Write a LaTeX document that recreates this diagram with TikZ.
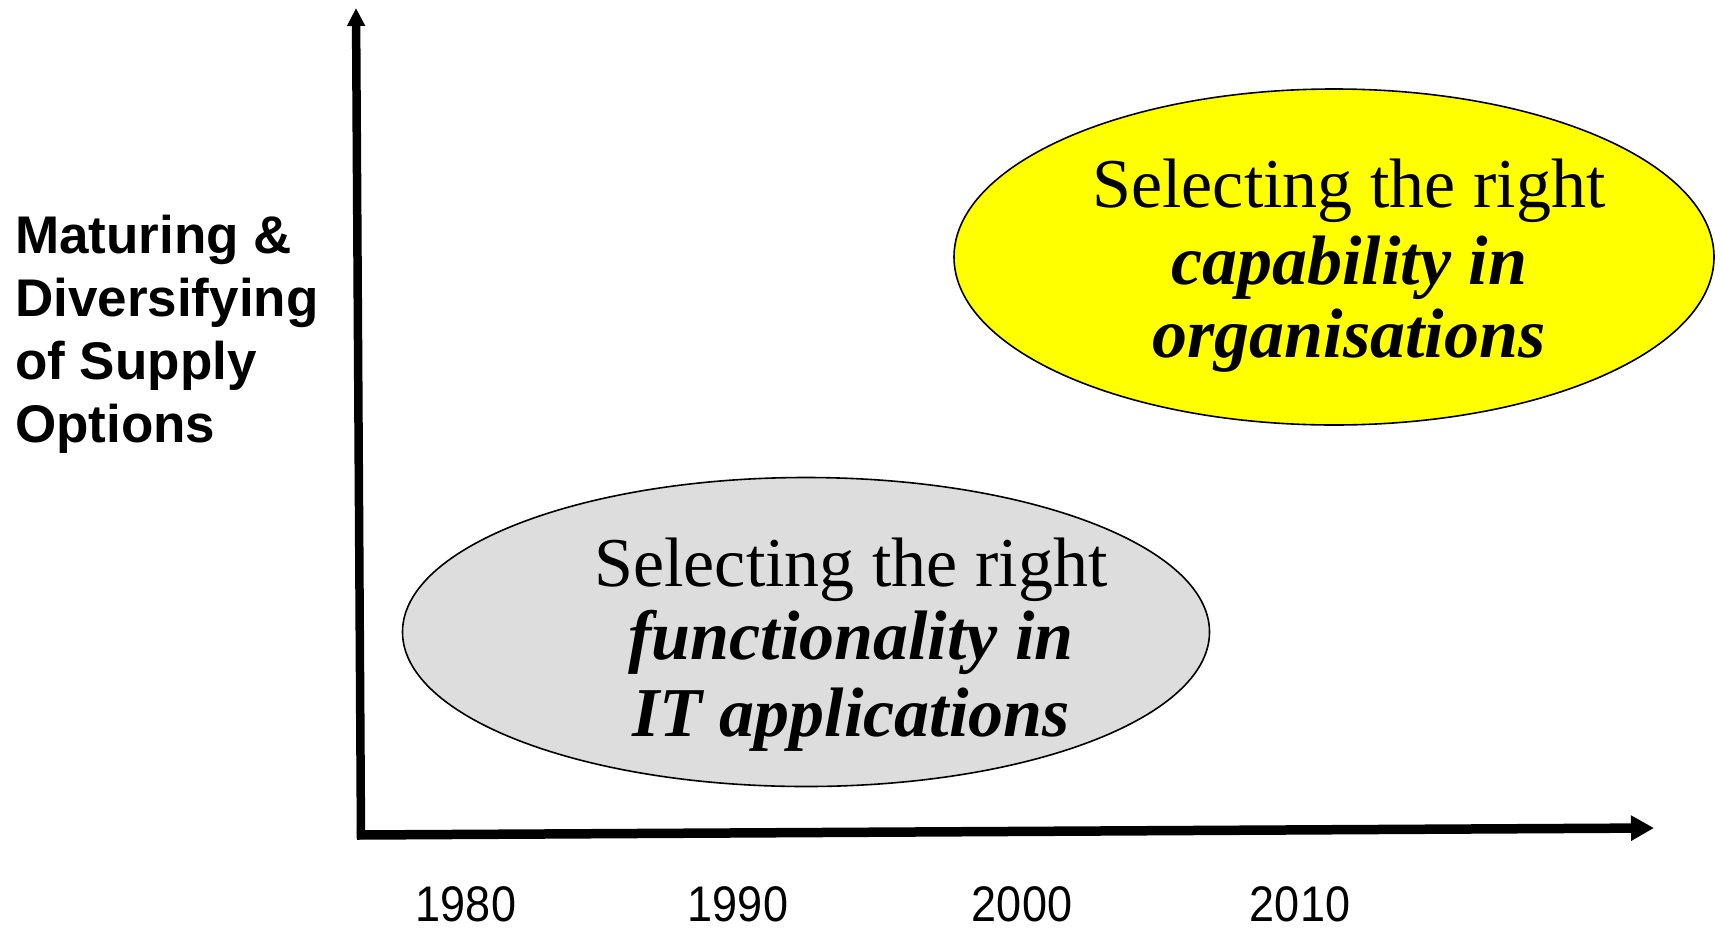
\documentclass[tikz,border=0pt]{standalone}
\usepackage{fontspec}
\setmainfont{Liberation Serif}
\newfontfamily\labelfont{Liberation Sans}
\newfontfamily\yearfont[FakeStretch=0.9]{Liberation Sans}
\usetikzlibrary{shapes.geometric,arrows.meta}
\definecolor{capyellow}{RGB}{255,255,0}
\definecolor{funcgray}{RGB}{221,221,221}
\begin{document}
\begin{tikzpicture}[x=1pt,y=-1pt,
  axisline/.style={line width=8.5pt},
  blob/.style={ellipse, draw=black, line width=1.6pt, inner sep=0pt},
  serifline/.style={anchor=base, inner sep=0pt, font=\fontsize{70}{75}\selectfont},
  emphline/.style={anchor=base, inner sep=0pt, font=\fontsize{70}{75}\selectfont\bfseries\itshape},
  sidelabel/.style={anchor=base west, inner sep=0pt, font=\labelfont\bfseries\fontsize{53}{62}\selectfont},
  yearlabel/.style={anchor=base, inner sep=0pt, font=\yearfont\fontsize{50}{58}\selectfont}]
  \useasboundingbox (0,0) rectangle (1723,929);

  % axes
  \coordinate (ybot) at (361,839);
  \coordinate (ytop) at (356,8);
  \coordinate (xleft) at (357,835);
  \coordinate (xright) at (1654,828);
  \draw[axisline, -{Triangle[length=18pt,width=17pt]}] (ybot) -- (ytop);
  \draw[axisline, line width=9.5pt, -{Triangle[length=23pt,width=24pt]}] (xleft) -- (xright);

  % vertical axis caption
  \node[sidelabel] (s1) at (15,253) {Maturing \&};
  \node[sidelabel] (s2) at (15,316) {Diversifying};
  \node[sidelabel] (s3) at (15,379) {of Supply};
  \node[sidelabel] (s4) at (15,442) {Options};

  % decades
  \node[yearlabel] (d1980) at (466,921) {1980};
  \node[yearlabel] (d1990) at (738,921) {1990};
  \node[yearlabel] (d2000) at (1022,921) {2000};
  \node[yearlabel] (d2010) at (1300,921) {2010};

  % later stage: capability
  \node[blob, fill=capyellow, minimum width=760pt, minimum height=336pt] (cap) at (1334,257) {};
  \node[serifline] (cap1) at (1349,207) {Selecting the right};
  \node[emphline] (cap2) at (1349,284) {capability in};
  \node[emphline] (cap3) at (1349,357) {organisations};

  % earlier stage: functionality
  \node[blob, fill=funcgray, minimum width=807pt, minimum height=309pt] (func) at (806,632) {};
  \node[serifline] (func1) at (851,586) {Selecting the right};
  \node[emphline] (func2) at (851,659) {functionality in};
  \node[emphline] (func3) at (851,736) {IT applications};
\end{tikzpicture}
\end{document}
